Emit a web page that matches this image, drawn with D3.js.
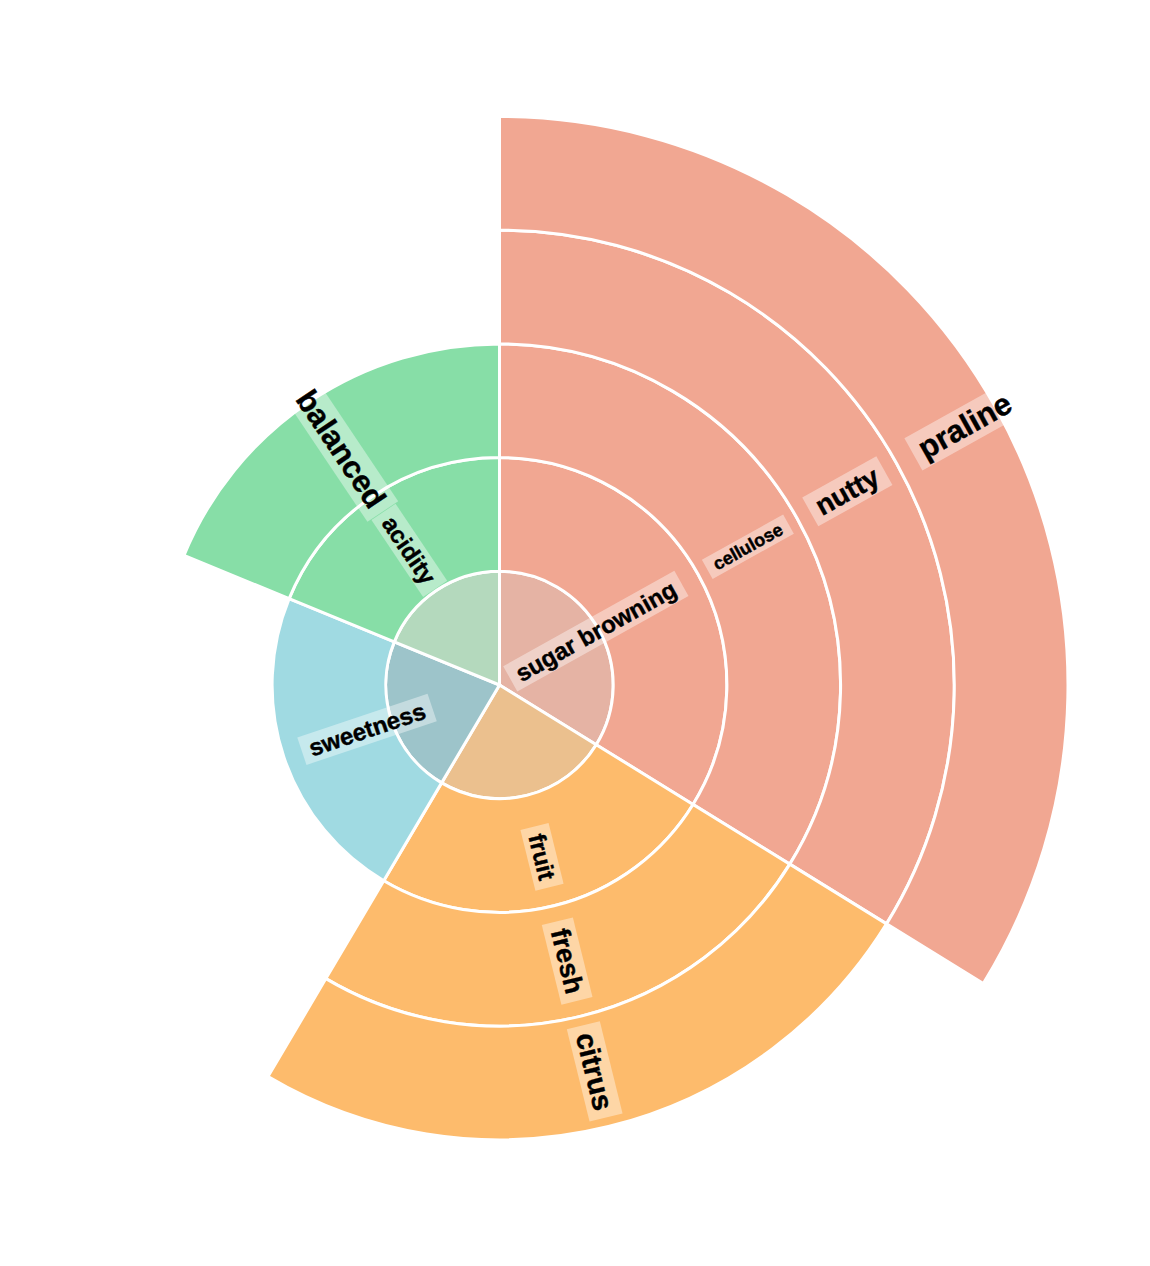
<!DOCTYPE html>
<html>
<head>
<meta charset="utf-8">
<script src="https://cdn.jsdelivr.net/npm/d3@7"></script>
<style>
  html, body { margin: 0; padding: 0; background: #ffffff; }
  svg { display: block; }
</style>
</head>
<body>
<svg id="chart" width="1150" height="1266"></svg>
<script>
// ---- data ----
const categories = ["sugar browning", "fruit", "sweetness", "acidity"];
const categoryShares = [33.8, 24.7, 22.7, 18.8];
const descriptors = [
  ["cellulose", "nutty", "praline"],
  ["fresh", "citrus"],
  [],
  ["balanced"]
];

// ---- styles ----
const ringColors = ["#f1a792", "#fdbb6c", "#a0dae2", "#87dea7"];
const coreColors = ["#e5b3a4", "#ebc08e", "#9dc4ca", "#b4d9bd"];
const labelFontSize = {
  "sugar browning": 24, "fruit": 24, "sweetness": 24, "acidity": 24,
  "cellulose": 18, "nutty": 28, "praline": 31,
  "fresh": 27, "citrus": 29, "balanced": 31
};

const W = 1150, H = 1266;
const cx = 499.5, cy = 685;
const outerR = 568.5;

// build hierarchy
const rootData = {
  name: "root",
  children: categories.map((c, i) => {
    const node = { name: c, cat: c };
    let cur = node;
    descriptors[i].forEach(dn => {
      const child = { name: dn, cat: c };
      cur.children = [child];
      cur = child;
    });
    cur.value = categoryShares[i];
    return node;
  })
};

const root = d3.hierarchy(rootData).sum(d => d.value || 0);
d3.partition().size([2 * Math.PI, 5])(root);

const rScale = d3.scaleLinear().domain([0, 5]).range([0, outerR]);
const ringColor = d3.scaleOrdinal(categories, ringColors);
const coreColor = d3.scaleOrdinal(categories, coreColors);

const svg = d3.select("#chart");
const g = svg.append("g").attr("transform", `translate(${cx},${cy})`);

const arc = d3.arc()
  .startAngle(d => d.x0)
  .endAngle(d => d.x1)
  .innerRadius(d => rScale(d.y0))
  .outerRadius(d => rScale(d.y1));

const coreArc = d3.arc()
  .startAngle(d => d.x0)
  .endAngle(d => d.x1)
  .innerRadius(0)
  .outerRadius(rScale(1));

// core disk (one slice per category)
g.append("g").selectAll("path")
  .data(root.children)
  .join("path")
  .attr("d", coreArc)
  .attr("fill", d => coreColor(d.data.cat))
  .attr("stroke", "#ffffff")
  .attr("stroke-width", 3);

// rings
const nodes = root.descendants().filter(d => d.depth >= 1);
g.append("g").selectAll("path")
  .data(nodes)
  .join("path")
  .attr("d", arc)
  .attr("fill", d => ringColor(d.data.cat))
  .attr("stroke", "#ffffff")
  .attr("stroke-width", 3);

// labels
const labelLayer = g.append("g");
nodes.forEach(d => {
  const midDeg = ((d.x0 + d.x1) / 2) * 180 / Math.PI;
  const right = midDeg < 180;
  const rot = right ? midDeg - 90 : midDeg + 90;
  const sign = right ? 1 : -1;
  let rLab, anchor;
  if (d.depth === 1) {
    rLab = rScale(d.y1) - 27;
    anchor = right ? "end" : "start";
  } else if (d.depth === 4) {
    rLab = rScale(d.y0) + 27;
    anchor = right ? "start" : "end";
  } else {
    rLab = (rScale(d.y0) + rScale(d.y1)) / 2;
    anchor = "middle";
  }
  const lg = labelLayer.append("g").attr("transform", `rotate(${rot})`);
  const bg = lg.append("rect");
  const t = lg.append("text")
    .attr("x", sign * rLab)
    .attr("y", 0)
    .attr("dy", "0.35em")
    .attr("text-anchor", anchor)
    .attr("font-family", "'Liberation Sans', Arial, Helvetica, sans-serif")
    .attr("font-weight", "bold")
    .attr("font-size", labelFontSize[d.data.name])
    .attr("fill", "#000000")
    .attr("stroke", "#000000")
    .attr("stroke-width", 0.4)
    .text(d.data.name);
  const bb = t.node().getBBox();
  const padX = 8, padY = 1;
  bg.attr("x", bb.x - padX)
    .attr("y", bb.y - padY)
    .attr("width", bb.width + 2 * padX)
    .attr("height", bb.height + 2 * padY)
    .attr("fill", "#ffffff")
    .attr("fill-opacity", 0.4);
});
</script>
</body>
</html>
